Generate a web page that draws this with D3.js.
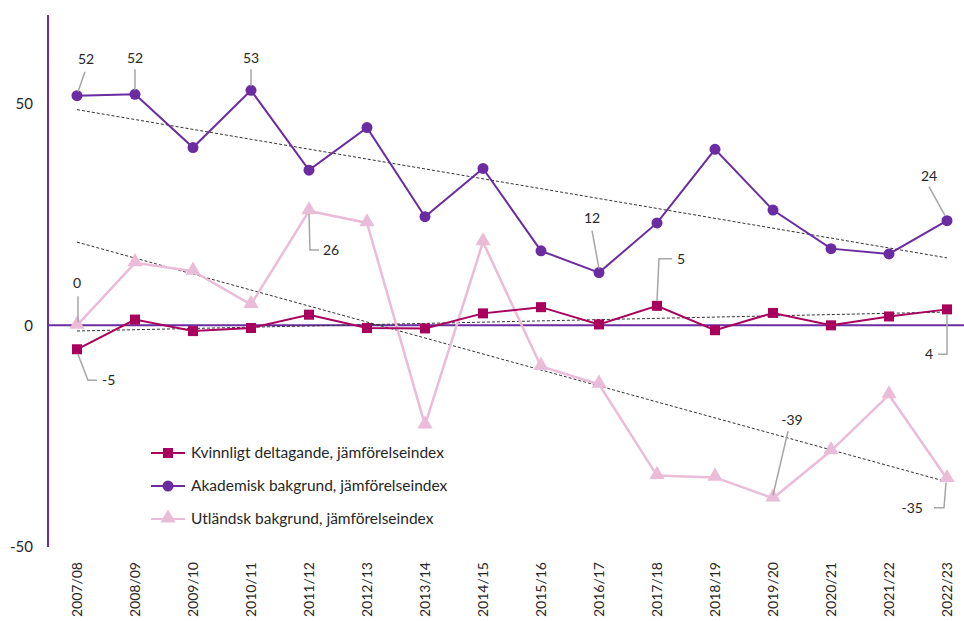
<!DOCTYPE html>
<html><head><meta charset="utf-8">
<script src="https://cdn.jsdelivr.net/npm/d3@7/dist/d3.min.js"></script>
<style>body{margin:0;background:#fff}svg{display:block}text{font-family:Lato,"Open Sans",sans-serif}</style>
</head><body><svg id="c" width="964" height="621"></svg>
<script>
const categories = ["2007/08","2008/09","2009/10","2010/11","2011/12","2012/13","2013/14","2014/15","2015/16","2016/17","2017/18","2018/19","2019/20","2020/21","2021/22","2022/23"];
const kvinnligt = [-5.4,1.3,-1.3,-0.6,2.4,-0.6,-0.7,2.7,4.1,0.2,4.4,-1.1,2.8,0.0,2.0,3.6];
const akademisk = [51.8,52.1,40.1,53.0,35.0,44.6,24.5,35.4,16.8,11.9,23.1,39.7,26.0,17.3,16.1,23.6];
const utlandsk = [0.0,14.1,12.2,4.7,25.8,23.1,-22.5,18.8,-9.3,-13.3,-33.9,-34.3,-39.0,-28.3,-15.7,-34.6];
const seriesNames = ["Kvinnligt deltagande, jämförelseindex","Akademisk bakgrund, jämförelseindex","Utländsk bakgrund, jämförelseindex"];
const yTicks = [-50,0,50];

const colK = "#A8005C", colA = "#6A2CA0", colU = "#EBBCD7";
const svg = d3.select("#c");
const x = d3.scaleBand().domain(categories).range([48,976]).padding(0);
const cx = c => x(c) + x.bandwidth()/2;
const y = d3.scaleLinear().domain([-50,70]).range([547,15]);

// y axis
const ya = svg.append("g").attr("transform","translate(48,0)")
  .call(d3.axisLeft(y).tickValues(yTicks).tickSize(0).tickPadding(15).tickFormat(d=>String(d)));
ya.select(".domain").attr("stroke",colA).attr("stroke-width",2).attr("d","M0,"+y(70)+"V"+y(-50));
ya.selectAll("text").attr("font-size",15).attr("fill","#262626").attr("font-family","Lato");
// zero line
svg.append("line").attr("x1",48).attr("x2",964).attr("y1",y(0)).attr("y2",y(0)).attr("stroke",colA).attr("stroke-width",2);

// x labels
const xa = svg.append("g").attr("transform","translate(0,562)")
  .call(d3.axisBottom(x).tickSize(0));
xa.select(".domain").remove();
xa.selectAll("text").attr("transform","rotate(-90)").attr("text-anchor","end")
  .attr("x",0).attr("y",0).attr("dy","0.35em").attr("font-size",14).attr("fill","#262626").attr("font-family","Lato");

// trendlines
function trend(vals){
  const n=vals.length; const xs=d3.range(n);
  const mx=d3.mean(xs), my=d3.mean(vals);
  const b=d3.sum(xs,(xi,i)=>(xi-mx)*(vals[i]-my))/d3.sum(xs,xi=>(xi-mx)**2);
  const a=my-b*mx; return [a, a+b*(n-1)];
}
[kvinnligt,akademisk,utlandsk].forEach(v=>{
  const t=trend(v);
  svg.append("line").attr("x1",cx(categories[0])).attr("x2",cx(categories[categories.length-1]))
    .attr("y1",y(t[0])).attr("y2",y(t[1])).attr("stroke","#333").attr("stroke-width",1).attr("stroke-dasharray","3,2");
});

const line = d3.line().x((d,i)=>cx(categories[i])).y(d=>y(d));
// utlandsk
svg.append("path").attr("d",line(utlandsk)).attr("fill","none").attr("stroke",colU).attr("stroke-width",2.5);
const tri = d3.symbol().type(d3.symbolTriangle).size(100);
svg.selectAll(".tu").data(utlandsk).enter().append("path").attr("d",tri)
  .attr("transform",(d,i)=>`translate(${cx(categories[i])},${y(d)-1})`).attr("fill",colU);
// akademisk
svg.append("path").attr("d",line(akademisk)).attr("fill","none").attr("stroke",colA).attr("stroke-width",2);
svg.selectAll(".ca").data(akademisk).enter().append("circle").attr("cx",(d,i)=>cx(categories[i])).attr("cy",d=>y(d)).attr("r",5.5).attr("fill",colA);
// kvinnligt
svg.append("path").attr("d",line(kvinnligt)).attr("fill","none").attr("stroke",colK).attr("stroke-width",2);
svg.selectAll(".sk").data(kvinnligt).enter().append("rect").attr("x",(d,i)=>cx(categories[i])-5).attr("y",d=>y(d)-5).attr("width",10).attr("height",10).attr("fill",colK);

// annotations
const ann = [
 {s:akademisk,i:0,t:"52",lx:9,ly:-37,a:"middle",p:[[1,-4],[8,-24]]},
 {s:akademisk,i:1,t:"52",lx:0,ly:-36,a:"middle",p:[[0,-4],[0,-25]]},
 {s:akademisk,i:3,t:"53",lx:0,ly:-32,a:"middle",p:[[0,-4],[0,-21]]},
 {s:akademisk,i:9,t:"12",lx:-7,ly:-54,a:"middle",p:[[0,-4],[-7,-42]]},
 {s:akademisk,i:15,t:"24",lx:-18,ly:-45,a:"middle",p:[[-2,-5],[-18,-34]]},
 {s:kvinnligt,i:0,t:"-5",lx:25,ly:31,a:"start",p:[[1,5],[11,31],[20,31]]},
 {s:kvinnligt,i:10,t:"5",lx:20,ly:-47,a:"start",p:[[0,-5],[2,-47],[15,-47]]},
 {s:kvinnligt,i:15,t:"4",lx:-14,ly:45,a:"end",p:[[0,5],[0,45],[-9,45]]},
 {s:utlandsk,i:0,t:"0",lx:0,ly:-42,a:"middle",p:[[1,-3],[1,-29]]},
 {s:utlandsk,i:4,t:"26",lx:14,ly:39,a:"start",p:[[0,3],[1,39],[10,39]]},
 {s:utlandsk,i:12,t:"-39",lx:19,ly:-78,a:"middle",p:[[0,-3],[15,-67]]},
 {s:utlandsk,i:15,t:"-35",lx:-24,ly:29,a:"end",p:[[-1,4],[-3,29],[-13,29]]}
];
ann.forEach(o=>{
  const px=cx(categories[o.i]), py=y(o.s[o.i]);
  svg.append("path").attr("d",d3.line()(o.p.map(q=>[px+q[0],py+q[1]]))).attr("fill","none").attr("stroke","#A6A6A6").attr("stroke-width",1.5);
  svg.append("text").attr("x",px+o.lx).attr("y",py+o.ly).attr("dy","0.35em").attr("text-anchor",o.a)
    .attr("font-size",14).attr("fill","#262626").text(o.t);
});

// legend
const lg = svg.append("g");
const cols=[colK,colA,colU];
[453,486,519].forEach((ly,k)=>{
  lg.append("line").attr("x1",151).attr("x2",185).attr("y1",ly).attr("y2",ly).attr("stroke",cols[k]).attr("stroke-width",2);
  if(k===0) lg.append("rect").attr("x",163).attr("y",ly-5).attr("width",10).attr("height",10).attr("fill",colK);
  if(k===1) lg.append("circle").attr("cx",168).attr("cy",ly).attr("r",5.5).attr("fill",colA);
  if(k===2) lg.append("path").attr("d",tri).attr("transform",`translate(168,${ly-1})`).attr("fill",colU);
  lg.append("text").attr("x",191).attr("y",ly).attr("dy","0.35em").attr("font-size",15.5).attr("fill","#262626").text(seriesNames[k]);
});
</script></body></html>
